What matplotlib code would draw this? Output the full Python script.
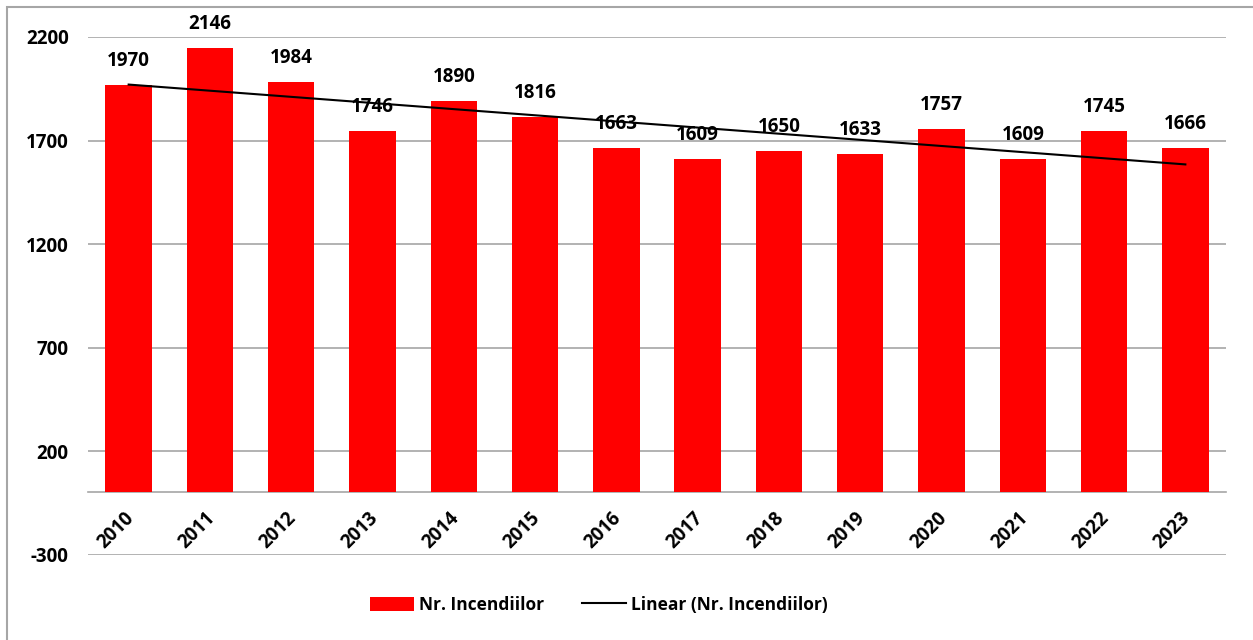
import numpy as np
import matplotlib
matplotlib.use('Agg')
import matplotlib.pyplot as plt
import matplotlib.patches as patches
import matplotlib.transforms as mtransforms

plt.rcParams['font.family'] = ['Open Sans', 'DejaVu Sans']
plt.rcParams['font.weight'] = 'bold'

years = ['2010', '2011', '2012', '2013', '2014', '2015', '2016',
         '2017', '2018', '2019', '2020', '2021', '2022', '2023']
incendii = [1970, 2146, 1984, 1746, 1890, 1816, 1663,
            1609, 1650, 1633, 1757, 1609, 1745, 1666]
yticks = [-300, 200, 700, 1200, 1700, 2200]

FS = 13.5

fig = plt.figure(figsize=(12.53, 6.40), dpi=100)
ax = fig.add_axes([88 / 1253, 1 - 555 / 640, (1226 - 88) / 1253, (555 - 37) / 640])

x = np.arange(len(years))
bar_h = ax.bar(x, incendii, width=0.57, color='#ff0000', zorder=3,
               label='Nr. Incendiilor')

# linear trend, as Excel draws it
k, b = np.polyfit(x, incendii, 1)
trend_h, = ax.plot(x, k * x + b, color='black', lw=1.5, zorder=4,
                   label='Linear (Nr. Incendiilor)')

for xi, v in zip(x, incendii):
    ax.annotate(str(v), (xi, v), xytext=(0, 10), textcoords='offset points',
                ha='center', va='bottom', fontsize=FS, fontweight='bold')

ax.set_xlim(-0.5, len(years) - 0.5)
ax.set_ylim(-302, 2200)
ax.set_yticks(yticks)
ax.set_yticklabels([str(t) for t in yticks], fontsize=FS, fontweight='bold')
ax.yaxis.grid(True, color='#a6a6a6', lw=1.2, zorder=0)
ax.tick_params(axis='y', length=0, pad=14)

ax.spines['bottom'].set_position(('data', 0))
ax.spines['bottom'].set_color('#a6a6a6')
ax.spines['bottom'].set_linewidth(1.2)
for s in ['top', 'right', 'left']:
    ax.spines[s].set_visible(False)
ax.set_xticks(x)
ax.set_xticklabels(years, rotation=45, ha='right', rotation_mode='anchor',
                   fontsize=FS, fontweight='bold')
ax.tick_params(axis='x', length=0, pad=11)
# shift labels so the right end sits near the bar centre
offset = mtransforms.ScaledTranslation(-5 / 100, 0, fig.dpi_scale_trans)
for lbl in ax.get_xticklabels():
    lbl.set_transform(lbl.get_transform() + offset)

ax.legend([bar_h, trend_h], ['Nr. Incendiilor', 'Linear (Nr. Incendiilor)'],
          loc='center', bbox_to_anchor=(0.449, -0.0965), ncol=2, frameon=False,
          handlelength=2.5, handleheight=0.9, handletextpad=0.3,
          columnspacing=2.2, prop={'weight': 'bold', 'size': 12.5})

fig.add_artist(patches.Rectangle((7 / 1253, -0.05), 1.1, 1 - 7 / 640 + 0.05,
                                 transform=fig.transFigure, fill=False,
                                 edgecolor='#a6a6a6', lw=1.5))

fig.savefig('out.png', dpi=100)
